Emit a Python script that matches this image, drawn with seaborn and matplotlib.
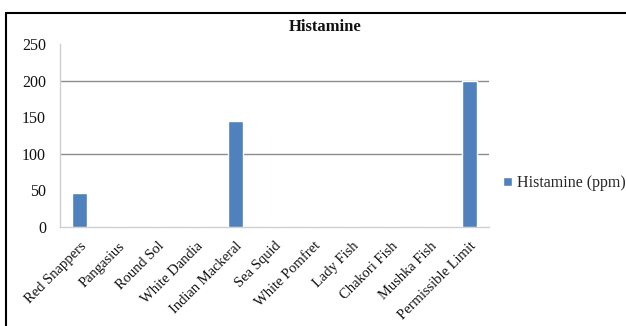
import matplotlib
matplotlib.use("Agg")
import matplotlib.pyplot as plt
from matplotlib.lines import Line2D
import seaborn as sns
import pandas as pd

categories = ["Red Snappers", "Pangasius", "Round Sol", "White Dandia",
              "Indian Mackeral", "Sea Squid", "White Pomfret", "Lady Fish",
              "Chakori Fish", "Mushka Fish", "Permissible Limit"]
histamine_ppm = [47, 0, 0, 0, 145, 0, 0, 0, 0, 0, 200]
y_ticks = [0, 50, 100, 150, 200, 250]
series_label = "Histamine (ppm)"
title = "Histamine"

df = pd.DataFrame({"Sample": categories, "Histamine": histamine_ppm})

sns.set_theme(style="white")
plt.rcParams["font.family"] = ["Liberation Serif", "DejaVu Serif"]

fig = plt.figure(figsize=(6.26, 3.26), dpi=100)
ax = fig.add_axes([60 / 626, 1 - 227 / 326, (489 - 60) / 626, (227 - 44) / 326])

bar_color = "#4F81BD"
sns.barplot(data=df, x="Sample", y="Histamine", color=bar_color, width=0.38,
            saturation=1, ax=ax, label=series_label, zorder=3)

ax.set_ylim(0, 250)
ax.set_xlim(-0.5, len(categories) - 0.5)
ax.set_yticks(y_ticks)
ax.set_yticklabels([str(v) for v in y_ticks], fontsize=11.5, color="#111111")
ax.set_xlabel("")
ax.set_ylabel("")

# horizontal gridlines
for v in [100, 200]:
    ax.axhline(v, color="#8c8c8c", lw=1.0, zorder=1)

for side in ["top", "right"]:
    ax.spines[side].set_visible(False)
ax.spines["left"].set_color("#d0d0d0")
ax.spines["bottom"].set_color("#d0d0d0")
ax.spines["left"].set_linewidth(1.0)
ax.spines["bottom"].set_linewidth(1.0)

ax.set_xticks(range(len(categories)))
ax.set_xticklabels(categories, rotation=45, ha="right", rotation_mode="anchor",
                   fontsize=10.5, color="#111111")
ax.tick_params(axis="x", which="major", length=0, pad=9)
ax.set_xticks([i - 0.5 for i in range(len(categories) + 1)], minor=True)
ax.tick_params(axis="x", which="minor", length=4, color="#c8c8c8", width=1, direction="out")
ax.tick_params(axis="y", length=0, pad=10)

ax.legend(loc="center left", bbox_to_anchor=(503 / 626, 1 - 183 / 326),
          bbox_transform=fig.transFigure, frameon=False, fontsize=11.5,
          handlelength=0.55, handleheight=0.55, handletextpad=0.3, borderaxespad=0,
          borderpad=0)

fig.text(325 / 626, 1 - 27 / 326, title, ha="center", va="center",
         fontsize=12, fontweight="bold", color="#111111")

# chart border
fig.add_artist(Line2D([6 / 626, 6 / 626], [0, 1 - 13 / 326], color="black", lw=1.5,
                      transform=fig.transFigure))
fig.add_artist(Line2D([6 / 626, 1], [1 - 13 / 326, 1 - 13 / 326], color="black", lw=1.5,
                      transform=fig.transFigure))

fig.savefig("out.png", dpi=100, facecolor="white")
